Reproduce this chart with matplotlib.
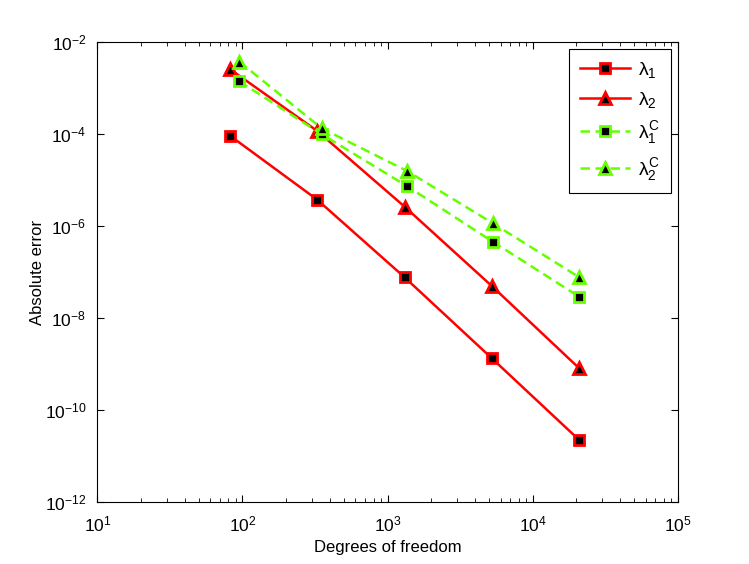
import matplotlib
matplotlib.use("Agg")
import matplotlib.pyplot as plt
from matplotlib.ticker import LogLocator, FixedLocator, NullLocator

plt.rcParams['font.family'] = ['Liberation Sans', 'DejaVu Sans']
plt.rcParams['mathtext.fontset'] = 'custom'
plt.rcParams['mathtext.rm'] = 'Liberation Sans'
plt.rcParams['mathtext.it'] = 'Liberation Sans'

dof_fem = [82, 326, 1310, 5220, 20900]
dof_c = [95, 351, 1355, 5300, 20950]
lam1 = [9.3e-5, 3.8e-6, 7.7e-8, 1.34e-9, 2.23e-11]
lam2 = [2.6e-3, 1.19e-4, 2.65e-6, 5.0e-8, 8.1e-10]
lam1_c = [1.42e-3, 1.0e-4, 7.5e-6, 4.6e-7, 2.9e-8]
lam2_c = [3.8e-3, 1.35e-4, 1.6e-5, 1.16e-6, 7.7e-8]
labels = [r'$\lambda_1$', r'$\lambda_2$', r'$\lambda_1^C$', r'$\lambda_2^C$']

red = '#ff0000'
green = '#66ff00'

fig = plt.figure(figsize=(7.49, 5.64), dpi=100)
ax = fig.add_axes([0.13, 0.11, 0.775, 0.815])

ax.loglog(dof_fem, lam1, '-', color=red, lw=1.8, marker='s', ms=7, mfc='k', mec=red, mew=2, label=labels[0])
ax.loglog(dof_fem, lam2, '-', color=red, lw=1.8, marker='^', ms=9, mfc='k', mec=red, mew=2, label=labels[1])
ax.loglog(dof_c, lam1_c, '--', color=green, lw=1.8, marker='s', ms=7, mfc='k', mec=green, mew=2, dashes=(3.8, 2.2), label=labels[2])
ax.loglog(dof_c, lam2_c, '--', color=green, lw=1.8, marker='^', ms=9, mfc='k', mec=green, mew=2, dashes=(3.8, 2.2), label=labels[3])

ax.set_xlim(1e1, 1e5)
ax.set_ylim(1e-12, 1e-2)
ax.xaxis.set_major_locator(LogLocator(base=10, numticks=10))
ax.xaxis.set_minor_locator(LogLocator(base=10, subs=range(2, 10), numticks=20))
ax.yaxis.set_major_locator(FixedLocator([1e-12, 1e-10, 1e-8, 1e-6, 1e-4, 1e-2]))
ax.yaxis.set_minor_locator(NullLocator())
ax.tick_params(which='both', direction='in', top=True, right=True, labelsize=12.5)
ax.tick_params(axis='x', which='major', pad=9)
ax.tick_params(axis='y', which='major', pad=8)
ax.tick_params(which='major', length=5)
ax.tick_params(which='minor', length=3)

ax.set_xlabel('Degrees of freedom', fontsize=12, labelpad=4)
ax.set_ylabel('Absolute error', fontsize=12, labelpad=0)

leg = ax.legend(loc='upper right', fontsize=14, fancybox=False, framealpha=1,
                edgecolor='k', handlelength=2.6, labelspacing=0.5,
                handletextpad=0.4, borderaxespad=0.35, borderpad=0.55)
leg.get_frame().set_linewidth(0.8)

fig.savefig('out.png', dpi=100)
